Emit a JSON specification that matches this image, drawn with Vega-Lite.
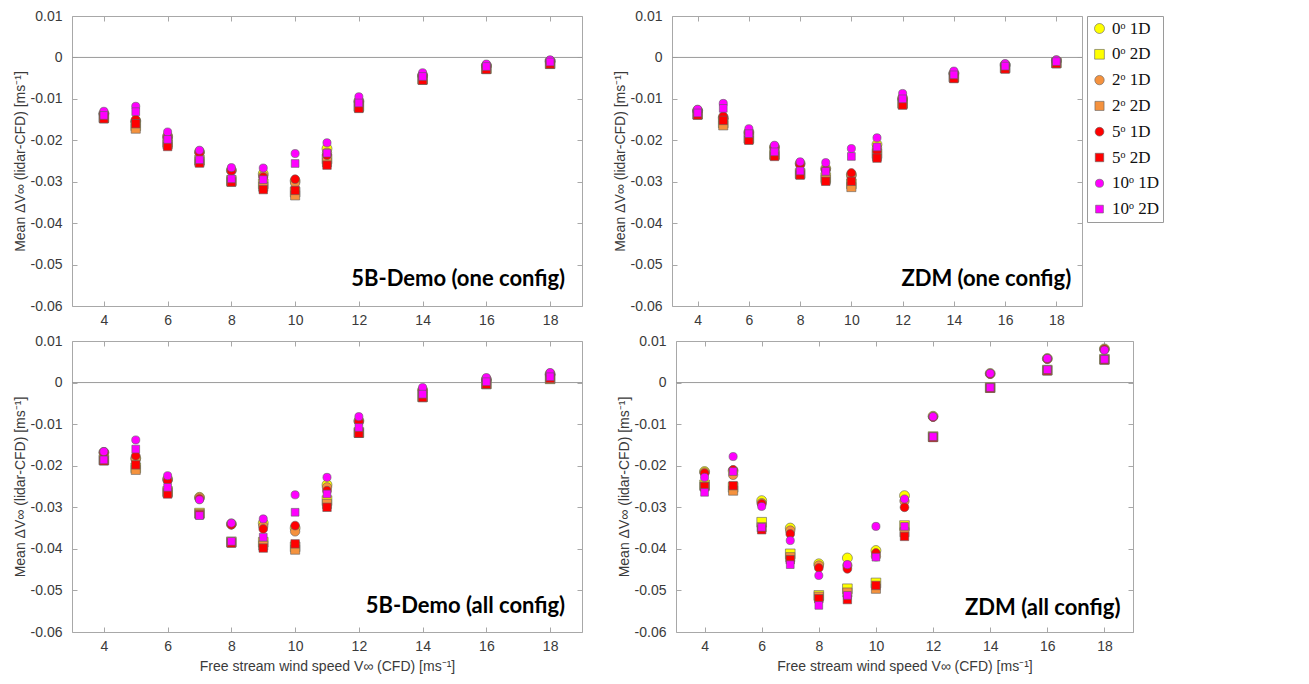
{
  "$schema": "https://vega.github.io/schema/vega-lite/v6.json",
  "background": "white",
  "padding": {"left": 12, "top": 8, "right": 5, "bottom": 5},
  "config": {
    "view": {"stroke": "#a8a8a8", "strokeWidth": 1},
    "axis": {
      "grid": false,
      "domain": false,
      "tickSize": -5,
      "tickColor": "#a8a8a8",
      "labelFont": "Liberation Sans",
      "labelFontSize": 14,
      "labelColor": "#3a3a3a",
      "titleFont": "Liberation Sans",
      "titleFontSize": 14,
      "titleFontWeight": "normal",
      "titleColor": "#3a3a3a"
    },
    "axisY": {"labelPadding": 15, "titlePadding": 3},
    "axisX": {"labelPadding": 12, "titlePadding": 6},
    "legend": {
      "orient": "right",
      "offset": 4,
      "strokeColor": "#9a9a9a",
      "fillColor": "white",
      "padding": 4,
      "labelFont": "Liberation Serif",
      "labelFontSize": 17,
      "labelColor": "#111111",
      "rowPadding": 7.8,
      "symbolStrokeColor": "#606060",
      "symbolStrokeWidth": 0.6,
      "labelOffset": 4
    }
  },
  "data": {"values": [
    {"p":"A","x":4,"s":"0ᵒ 1D","v":-0.0135},{"p":"A","x":4,"s":"0ᵒ 2D","v":-0.0145},{"p":"A","x":4,"s":"2ᵒ 1D","v":-0.0136},{"p":"A","x":4,"s":"2ᵒ 2D","v":-0.0147},{"p":"A","x":4,"s":"5ᵒ 1D","v":-0.0136},{"p":"A","x":4,"s":"5ᵒ 2D","v":-0.0148},{"p":"A","x":4,"s":"10ᵒ 1D","v":-0.0130},{"p":"A","x":4,"s":"10ᵒ 2D","v":-0.0140},
    {"p":"A","x":5,"s":"0ᵒ 1D","v":-0.0153},{"p":"A","x":5,"s":"0ᵒ 2D","v":-0.0165},{"p":"A","x":5,"s":"2ᵒ 1D","v":-0.0155},{"p":"A","x":5,"s":"2ᵒ 2D","v":-0.0172},{"p":"A","x":5,"s":"5ᵒ 1D","v":-0.0150},{"p":"A","x":5,"s":"5ᵒ 2D","v":-0.0160},{"p":"A","x":5,"s":"10ᵒ 1D","v":-0.0118},{"p":"A","x":5,"s":"10ᵒ 2D","v":-0.0131},
    {"p":"A","x":6,"s":"0ᵒ 1D","v":-0.0190},{"p":"A","x":6,"s":"0ᵒ 2D","v":-0.0205},{"p":"A","x":6,"s":"2ᵒ 1D","v":-0.0191},{"p":"A","x":6,"s":"2ᵒ 2D","v":-0.0210},{"p":"A","x":6,"s":"5ᵒ 1D","v":-0.0192},{"p":"A","x":6,"s":"5ᵒ 2D","v":-0.0215},{"p":"A","x":6,"s":"10ᵒ 1D","v":-0.0180},{"p":"A","x":6,"s":"10ᵒ 2D","v":-0.0198},
    {"p":"A","x":7,"s":"0ᵒ 1D","v":-0.0228},{"p":"A","x":7,"s":"0ᵒ 2D","v":-0.0248},{"p":"A","x":7,"s":"2ᵒ 1D","v":-0.0229},{"p":"A","x":7,"s":"2ᵒ 2D","v":-0.0252},{"p":"A","x":7,"s":"5ᵒ 1D","v":-0.0230},{"p":"A","x":7,"s":"5ᵒ 2D","v":-0.0255},{"p":"A","x":7,"s":"10ᵒ 1D","v":-0.0224},{"p":"A","x":7,"s":"10ᵒ 2D","v":-0.0247},
    {"p":"A","x":8,"s":"0ᵒ 1D","v":-0.0272},{"p":"A","x":8,"s":"0ᵒ 2D","v":-0.0297},{"p":"A","x":8,"s":"2ᵒ 1D","v":-0.0273},{"p":"A","x":8,"s":"2ᵒ 2D","v":-0.0300},{"p":"A","x":8,"s":"5ᵒ 1D","v":-0.0274},{"p":"A","x":8,"s":"5ᵒ 2D","v":-0.0301},{"p":"A","x":8,"s":"10ᵒ 1D","v":-0.0266},{"p":"A","x":8,"s":"10ᵒ 2D","v":-0.0293},
    {"p":"A","x":9,"s":"0ᵒ 1D","v":-0.0281},{"p":"A","x":9,"s":"0ᵒ 2D","v":-0.0305},{"p":"A","x":9,"s":"2ᵒ 1D","v":-0.0286},{"p":"A","x":9,"s":"2ᵒ 2D","v":-0.0312},{"p":"A","x":9,"s":"5ᵒ 1D","v":-0.0289},{"p":"A","x":9,"s":"5ᵒ 2D","v":-0.0319},{"p":"A","x":9,"s":"10ᵒ 1D","v":-0.0267},{"p":"A","x":9,"s":"10ᵒ 2D","v":-0.0295},
    {"p":"A","x":10,"s":"0ᵒ 1D","v":-0.0298},{"p":"A","x":10,"s":"0ᵒ 2D","v":-0.0325},{"p":"A","x":10,"s":"2ᵒ 1D","v":-0.0303},{"p":"A","x":10,"s":"2ᵒ 2D","v":-0.0333},{"p":"A","x":10,"s":"5ᵒ 1D","v":-0.0294},{"p":"A","x":10,"s":"5ᵒ 2D","v":-0.0321},{"p":"A","x":10,"s":"10ᵒ 1D","v":-0.0232},{"p":"A","x":10,"s":"10ᵒ 2D","v":-0.0256},
    {"p":"A","x":11,"s":"0ᵒ 1D","v":-0.0220},{"p":"A","x":11,"s":"0ᵒ 2D","v":-0.0245},{"p":"A","x":11,"s":"2ᵒ 1D","v":-0.0230},{"p":"A","x":11,"s":"2ᵒ 2D","v":-0.0253},{"p":"A","x":11,"s":"5ᵒ 1D","v":-0.0236},{"p":"A","x":11,"s":"5ᵒ 2D","v":-0.0260},{"p":"A","x":11,"s":"10ᵒ 1D","v":-0.0206},{"p":"A","x":11,"s":"10ᵒ 2D","v":-0.0231},
    {"p":"A","x":12,"s":"0ᵒ 1D","v":-0.0105},{"p":"A","x":12,"s":"0ᵒ 2D","v":-0.0118},{"p":"A","x":12,"s":"2ᵒ 1D","v":-0.0106},{"p":"A","x":12,"s":"2ᵒ 2D","v":-0.0121},{"p":"A","x":12,"s":"5ᵒ 1D","v":-0.0107},{"p":"A","x":12,"s":"5ᵒ 2D","v":-0.0123},{"p":"A","x":12,"s":"10ᵒ 1D","v":-0.0095},{"p":"A","x":12,"s":"10ᵒ 2D","v":-0.0110},
    {"p":"A","x":14,"s":"0ᵒ 1D","v":-0.0043},{"p":"A","x":14,"s":"0ᵒ 2D","v":-0.0052},{"p":"A","x":14,"s":"2ᵒ 1D","v":-0.0044},{"p":"A","x":14,"s":"2ᵒ 2D","v":-0.0054},{"p":"A","x":14,"s":"5ᵒ 1D","v":-0.0045},{"p":"A","x":14,"s":"5ᵒ 2D","v":-0.0055},{"p":"A","x":14,"s":"10ᵒ 1D","v":-0.0037},{"p":"A","x":14,"s":"10ᵒ 2D","v":-0.0046},
    {"p":"A","x":16,"s":"0ᵒ 1D","v":-0.0020},{"p":"A","x":16,"s":"0ᵒ 2D","v":-0.0027},{"p":"A","x":16,"s":"2ᵒ 1D","v":-0.0021},{"p":"A","x":16,"s":"2ᵒ 2D","v":-0.0028},{"p":"A","x":16,"s":"5ᵒ 1D","v":-0.0022},{"p":"A","x":16,"s":"5ᵒ 2D","v":-0.0029},{"p":"A","x":16,"s":"10ᵒ 1D","v":-0.0016},{"p":"A","x":16,"s":"10ᵒ 2D","v":-0.0022},
    {"p":"A","x":18,"s":"0ᵒ 1D","v":-0.0009},{"p":"A","x":18,"s":"0ᵒ 2D","v":-0.0015},{"p":"A","x":18,"s":"2ᵒ 1D","v":-0.0010},{"p":"A","x":18,"s":"2ᵒ 2D","v":-0.0016},{"p":"A","x":18,"s":"5ᵒ 1D","v":-0.0010},{"p":"A","x":18,"s":"5ᵒ 2D","v":-0.0016},{"p":"A","x":18,"s":"10ᵒ 1D","v":-0.0006},{"p":"A","x":18,"s":"10ᵒ 2D","v":-0.0011},

    {"p":"B","x":4,"s":"0ᵒ 1D","v":-0.0128},{"p":"B","x":4,"s":"0ᵒ 2D","v":-0.0137},{"p":"B","x":4,"s":"2ᵒ 1D","v":-0.0129},{"p":"B","x":4,"s":"2ᵒ 2D","v":-0.0138},{"p":"B","x":4,"s":"5ᵒ 1D","v":-0.0129},{"p":"B","x":4,"s":"5ᵒ 2D","v":-0.0139},{"p":"B","x":4,"s":"10ᵒ 1D","v":-0.0125},{"p":"B","x":4,"s":"10ᵒ 2D","v":-0.0134},
    {"p":"B","x":5,"s":"0ᵒ 1D","v":-0.0145},{"p":"B","x":5,"s":"0ᵒ 2D","v":-0.0158},{"p":"B","x":5,"s":"2ᵒ 1D","v":-0.0147},{"p":"B","x":5,"s":"2ᵒ 2D","v":-0.0164},{"p":"B","x":5,"s":"5ᵒ 1D","v":-0.0142},{"p":"B","x":5,"s":"5ᵒ 2D","v":-0.0152},{"p":"B","x":5,"s":"10ᵒ 1D","v":-0.0111},{"p":"B","x":5,"s":"10ᵒ 2D","v":-0.0123},
    {"p":"B","x":6,"s":"0ᵒ 1D","v":-0.0180},{"p":"B","x":6,"s":"0ᵒ 2D","v":-0.0195},{"p":"B","x":6,"s":"2ᵒ 1D","v":-0.0181},{"p":"B","x":6,"s":"2ᵒ 2D","v":-0.0197},{"p":"B","x":6,"s":"5ᵒ 1D","v":-0.0182},{"p":"B","x":6,"s":"5ᵒ 2D","v":-0.0200},{"p":"B","x":6,"s":"10ᵒ 1D","v":-0.0172},{"p":"B","x":6,"s":"10ᵒ 2D","v":-0.0184},
    {"p":"B","x":7,"s":"0ᵒ 1D","v":-0.0216},{"p":"B","x":7,"s":"0ᵒ 2D","v":-0.0234},{"p":"B","x":7,"s":"2ᵒ 1D","v":-0.0217},{"p":"B","x":7,"s":"2ᵒ 2D","v":-0.0236},{"p":"B","x":7,"s":"5ᵒ 1D","v":-0.0218},{"p":"B","x":7,"s":"5ᵒ 2D","v":-0.0239},{"p":"B","x":7,"s":"10ᵒ 1D","v":-0.0212},{"p":"B","x":7,"s":"10ᵒ 2D","v":-0.0228},
    {"p":"B","x":8,"s":"0ᵒ 1D","v":-0.0256},{"p":"B","x":8,"s":"0ᵒ 2D","v":-0.0280},{"p":"B","x":8,"s":"2ᵒ 1D","v":-0.0257},{"p":"B","x":8,"s":"2ᵒ 2D","v":-0.0282},{"p":"B","x":8,"s":"5ᵒ 1D","v":-0.0259},{"p":"B","x":8,"s":"5ᵒ 2D","v":-0.0284},{"p":"B","x":8,"s":"10ᵒ 1D","v":-0.0252},{"p":"B","x":8,"s":"10ᵒ 2D","v":-0.0274},
    {"p":"B","x":9,"s":"0ᵒ 1D","v":-0.0268},{"p":"B","x":9,"s":"0ᵒ 2D","v":-0.0290},{"p":"B","x":9,"s":"2ᵒ 1D","v":-0.0270},{"p":"B","x":9,"s":"2ᵒ 2D","v":-0.0295},{"p":"B","x":9,"s":"5ᵒ 1D","v":-0.0272},{"p":"B","x":9,"s":"5ᵒ 2D","v":-0.0299},{"p":"B","x":9,"s":"10ᵒ 1D","v":-0.0254},{"p":"B","x":9,"s":"10ᵒ 2D","v":-0.0275},
    {"p":"B","x":10,"s":"0ᵒ 1D","v":-0.0283},{"p":"B","x":10,"s":"0ᵒ 2D","v":-0.0305},{"p":"B","x":10,"s":"2ᵒ 1D","v":-0.0285},{"p":"B","x":10,"s":"2ᵒ 2D","v":-0.0313},{"p":"B","x":10,"s":"5ᵒ 1D","v":-0.0279},{"p":"B","x":10,"s":"5ᵒ 2D","v":-0.0299},{"p":"B","x":10,"s":"10ᵒ 1D","v":-0.0220},{"p":"B","x":10,"s":"10ᵒ 2D","v":-0.0239},
    {"p":"B","x":11,"s":"0ᵒ 1D","v":-0.0210},{"p":"B","x":11,"s":"0ᵒ 2D","v":-0.0232},{"p":"B","x":11,"s":"2ᵒ 1D","v":-0.0218},{"p":"B","x":11,"s":"2ᵒ 2D","v":-0.0238},{"p":"B","x":11,"s":"5ᵒ 1D","v":-0.0226},{"p":"B","x":11,"s":"5ᵒ 2D","v":-0.0243},{"p":"B","x":11,"s":"10ᵒ 1D","v":-0.0194},{"p":"B","x":11,"s":"10ᵒ 2D","v":-0.0216},
    {"p":"B","x":12,"s":"0ᵒ 1D","v":-0.0098},{"p":"B","x":12,"s":"0ᵒ 2D","v":-0.0110},{"p":"B","x":12,"s":"2ᵒ 1D","v":-0.0100},{"p":"B","x":12,"s":"2ᵒ 2D","v":-0.0113},{"p":"B","x":12,"s":"5ᵒ 1D","v":-0.0102},{"p":"B","x":12,"s":"5ᵒ 2D","v":-0.0115},{"p":"B","x":12,"s":"10ᵒ 1D","v":-0.0087},{"p":"B","x":12,"s":"10ᵒ 2D","v":-0.0100},
    {"p":"B","x":14,"s":"0ᵒ 1D","v":-0.0038},{"p":"B","x":14,"s":"0ᵒ 2D","v":-0.0047},{"p":"B","x":14,"s":"2ᵒ 1D","v":-0.0039},{"p":"B","x":14,"s":"2ᵒ 2D","v":-0.0049},{"p":"B","x":14,"s":"5ᵒ 1D","v":-0.0040},{"p":"B","x":14,"s":"5ᵒ 2D","v":-0.0051},{"p":"B","x":14,"s":"10ᵒ 1D","v":-0.0033},{"p":"B","x":14,"s":"10ᵒ 2D","v":-0.0042},
    {"p":"B","x":16,"s":"0ᵒ 1D","v":-0.0018},{"p":"B","x":16,"s":"0ᵒ 2D","v":-0.0025},{"p":"B","x":16,"s":"2ᵒ 1D","v":-0.0019},{"p":"B","x":16,"s":"2ᵒ 2D","v":-0.0026},{"p":"B","x":16,"s":"5ᵒ 1D","v":-0.0020},{"p":"B","x":16,"s":"5ᵒ 2D","v":-0.0028},{"p":"B","x":16,"s":"10ᵒ 1D","v":-0.0015},{"p":"B","x":16,"s":"10ᵒ 2D","v":-0.0021},
    {"p":"B","x":18,"s":"0ᵒ 1D","v":-0.0008},{"p":"B","x":18,"s":"0ᵒ 2D","v":-0.0013},{"p":"B","x":18,"s":"2ᵒ 1D","v":-0.0009},{"p":"B","x":18,"s":"2ᵒ 2D","v":-0.0014},{"p":"B","x":18,"s":"5ᵒ 1D","v":-0.0009},{"p":"B","x":18,"s":"5ᵒ 2D","v":-0.0015},{"p":"B","x":18,"s":"10ᵒ 1D","v":-0.0006},{"p":"B","x":18,"s":"10ᵒ 2D","v":-0.0010},

    {"p":"C","x":4,"s":"0ᵒ 1D","v":-0.0168},{"p":"C","x":4,"s":"0ᵒ 2D","v":-0.0186},{"p":"C","x":4,"s":"2ᵒ 1D","v":-0.0168},{"p":"C","x":4,"s":"2ᵒ 2D","v":-0.0187},{"p":"C","x":4,"s":"5ᵒ 1D","v":-0.0168},{"p":"C","x":4,"s":"5ᵒ 2D","v":-0.0188},{"p":"C","x":4,"s":"10ᵒ 1D","v":-0.0166},{"p":"C","x":4,"s":"10ᵒ 2D","v":-0.0186},
    {"p":"C","x":5,"s":"0ᵒ 1D","v":-0.0182},{"p":"C","x":5,"s":"0ᵒ 2D","v":-0.0205},{"p":"C","x":5,"s":"2ᵒ 1D","v":-0.0184},{"p":"C","x":5,"s":"2ᵒ 2D","v":-0.0210},{"p":"C","x":5,"s":"5ᵒ 1D","v":-0.0176},{"p":"C","x":5,"s":"5ᵒ 2D","v":-0.0198},{"p":"C","x":5,"s":"10ᵒ 1D","v":-0.0138},{"p":"C","x":5,"s":"10ᵒ 2D","v":-0.0160},
    {"p":"C","x":6,"s":"0ᵒ 1D","v":-0.0232},{"p":"C","x":6,"s":"0ᵒ 2D","v":-0.0262},{"p":"C","x":6,"s":"2ᵒ 1D","v":-0.0234},{"p":"C","x":6,"s":"2ᵒ 2D","v":-0.0265},{"p":"C","x":6,"s":"5ᵒ 1D","v":-0.0236},{"p":"C","x":6,"s":"5ᵒ 2D","v":-0.0268},{"p":"C","x":6,"s":"10ᵒ 1D","v":-0.0224},{"p":"C","x":6,"s":"10ᵒ 2D","v":-0.0252},
    {"p":"C","x":7,"s":"0ᵒ 1D","v":-0.0276},{"p":"C","x":7,"s":"0ᵒ 2D","v":-0.0314},{"p":"C","x":7,"s":"2ᵒ 1D","v":-0.0277},{"p":"C","x":7,"s":"2ᵒ 2D","v":-0.0316},{"p":"C","x":7,"s":"5ᵒ 1D","v":-0.0280},{"p":"C","x":7,"s":"5ᵒ 2D","v":-0.0318},{"p":"C","x":7,"s":"10ᵒ 1D","v":-0.0282},{"p":"C","x":7,"s":"10ᵒ 2D","v":-0.0320},
    {"p":"C","x":8,"s":"0ᵒ 1D","v":-0.0340},{"p":"C","x":8,"s":"0ᵒ 2D","v":-0.0383},{"p":"C","x":8,"s":"2ᵒ 1D","v":-0.0341},{"p":"C","x":8,"s":"2ᵒ 2D","v":-0.0385},{"p":"C","x":8,"s":"5ᵒ 1D","v":-0.0342},{"p":"C","x":8,"s":"5ᵒ 2D","v":-0.0386},{"p":"C","x":8,"s":"10ᵒ 1D","v":-0.0338},{"p":"C","x":8,"s":"10ᵒ 2D","v":-0.0382},
    {"p":"C","x":9,"s":"0ᵒ 1D","v":-0.0338},{"p":"C","x":9,"s":"0ᵒ 2D","v":-0.0384},{"p":"C","x":9,"s":"2ᵒ 1D","v":-0.0345},{"p":"C","x":9,"s":"2ᵒ 2D","v":-0.0392},{"p":"C","x":9,"s":"5ᵒ 1D","v":-0.0352},{"p":"C","x":9,"s":"5ᵒ 2D","v":-0.0398},{"p":"C","x":9,"s":"10ᵒ 1D","v":-0.0328},{"p":"C","x":9,"s":"10ᵒ 2D","v":-0.0372},
    {"p":"C","x":10,"s":"0ᵒ 1D","v":-0.0350},{"p":"C","x":10,"s":"0ᵒ 2D","v":-0.0395},{"p":"C","x":10,"s":"2ᵒ 1D","v":-0.0358},{"p":"C","x":10,"s":"2ᵒ 2D","v":-0.0402},{"p":"C","x":10,"s":"5ᵒ 1D","v":-0.0344},{"p":"C","x":10,"s":"5ᵒ 2D","v":-0.0388},{"p":"C","x":10,"s":"10ᵒ 1D","v":-0.0270},{"p":"C","x":10,"s":"10ᵒ 2D","v":-0.0312},
    {"p":"C","x":11,"s":"0ᵒ 1D","v":-0.0246},{"p":"C","x":11,"s":"0ᵒ 2D","v":-0.0284},{"p":"C","x":11,"s":"2ᵒ 1D","v":-0.0252},{"p":"C","x":11,"s":"2ᵒ 2D","v":-0.0292},{"p":"C","x":11,"s":"5ᵒ 1D","v":-0.0260},{"p":"C","x":11,"s":"5ᵒ 2D","v":-0.0300},{"p":"C","x":11,"s":"10ᵒ 1D","v":-0.0228},{"p":"C","x":11,"s":"10ᵒ 2D","v":-0.0268},
    {"p":"C","x":12,"s":"0ᵒ 1D","v":-0.0092},{"p":"C","x":12,"s":"0ᵒ 2D","v":-0.0120},{"p":"C","x":12,"s":"2ᵒ 1D","v":-0.0093},{"p":"C","x":12,"s":"2ᵒ 2D","v":-0.0121},{"p":"C","x":12,"s":"5ᵒ 1D","v":-0.0094},{"p":"C","x":12,"s":"5ᵒ 2D","v":-0.0122},{"p":"C","x":12,"s":"10ᵒ 1D","v":-0.0082},{"p":"C","x":12,"s":"10ᵒ 2D","v":-0.0108},
    {"p":"C","x":14,"s":"0ᵒ 1D","v":-0.0018},{"p":"C","x":14,"s":"0ᵒ 2D","v":-0.0034},{"p":"C","x":14,"s":"2ᵒ 1D","v":-0.0019},{"p":"C","x":14,"s":"2ᵒ 2D","v":-0.0035},{"p":"C","x":14,"s":"5ᵒ 1D","v":-0.0020},{"p":"C","x":14,"s":"5ᵒ 2D","v":-0.0036},{"p":"C","x":14,"s":"10ᵒ 1D","v":-0.0012},{"p":"C","x":14,"s":"10ᵒ 2D","v":-0.0028},
    {"p":"C","x":16,"s":"0ᵒ 1D","v":0.0008},{"p":"C","x":16,"s":"0ᵒ 2D","v":-0.0003},{"p":"C","x":16,"s":"2ᵒ 1D","v":0.0007},{"p":"C","x":16,"s":"2ᵒ 2D","v":-0.0004},{"p":"C","x":16,"s":"5ᵒ 1D","v":0.0006},{"p":"C","x":16,"s":"5ᵒ 2D","v":-0.0004},{"p":"C","x":16,"s":"10ᵒ 1D","v":0.0012},{"p":"C","x":16,"s":"10ᵒ 2D","v":0.0002},
    {"p":"C","x":18,"s":"0ᵒ 1D","v":0.0021},{"p":"C","x":18,"s":"0ᵒ 2D","v":0.0009},{"p":"C","x":18,"s":"2ᵒ 1D","v":0.0020},{"p":"C","x":18,"s":"2ᵒ 2D","v":0.0009},{"p":"C","x":18,"s":"5ᵒ 1D","v":0.0019},{"p":"C","x":18,"s":"5ᵒ 2D","v":0.0010},{"p":"C","x":18,"s":"10ᵒ 1D","v":0.0024},{"p":"C","x":18,"s":"10ᵒ 2D","v":0.0014},

    {"p":"D","x":4,"s":"0ᵒ 1D","v":-0.0214},{"p":"D","x":4,"s":"0ᵒ 2D","v":-0.0246},{"p":"D","x":4,"s":"2ᵒ 1D","v":-0.0216},{"p":"D","x":4,"s":"2ᵒ 2D","v":-0.0250},{"p":"D","x":4,"s":"5ᵒ 1D","v":-0.0218},{"p":"D","x":4,"s":"5ᵒ 2D","v":-0.0250},{"p":"D","x":4,"s":"10ᵒ 1D","v":-0.0228},{"p":"D","x":4,"s":"10ᵒ 2D","v":-0.0264},
    {"p":"D","x":5,"s":"0ᵒ 1D","v":-0.0212},{"p":"D","x":5,"s":"0ᵒ 2D","v":-0.0252},{"p":"D","x":5,"s":"2ᵒ 1D","v":-0.0222},{"p":"D","x":5,"s":"2ᵒ 2D","v":-0.0260},{"p":"D","x":5,"s":"5ᵒ 1D","v":-0.0210},{"p":"D","x":5,"s":"5ᵒ 2D","v":-0.0248},{"p":"D","x":5,"s":"10ᵒ 1D","v":-0.0178},{"p":"D","x":5,"s":"10ᵒ 2D","v":-0.0214},
    {"p":"D","x":6,"s":"0ᵒ 1D","v":-0.0284},{"p":"D","x":6,"s":"0ᵒ 2D","v":-0.0336},{"p":"D","x":6,"s":"2ᵒ 1D","v":-0.0290},{"p":"D","x":6,"s":"2ᵒ 2D","v":-0.0348},{"p":"D","x":6,"s":"5ᵒ 1D","v":-0.0292},{"p":"D","x":6,"s":"5ᵒ 2D","v":-0.0354},{"p":"D","x":6,"s":"10ᵒ 1D","v":-0.0298},{"p":"D","x":6,"s":"10ᵒ 2D","v":-0.0348},
    {"p":"D","x":7,"s":"0ᵒ 1D","v":-0.0350},{"p":"D","x":7,"s":"0ᵒ 2D","v":-0.0412},{"p":"D","x":7,"s":"2ᵒ 1D","v":-0.0356},{"p":"D","x":7,"s":"2ᵒ 2D","v":-0.0420},{"p":"D","x":7,"s":"5ᵒ 1D","v":-0.0364},{"p":"D","x":7,"s":"5ᵒ 2D","v":-0.0426},{"p":"D","x":7,"s":"10ᵒ 1D","v":-0.0380},{"p":"D","x":7,"s":"10ᵒ 2D","v":-0.0438},
    {"p":"D","x":8,"s":"0ᵒ 1D","v":-0.0436},{"p":"D","x":8,"s":"0ᵒ 2D","v":-0.0512},{"p":"D","x":8,"s":"2ᵒ 1D","v":-0.0440},{"p":"D","x":8,"s":"2ᵒ 2D","v":-0.0515},{"p":"D","x":8,"s":"5ᵒ 1D","v":-0.0446},{"p":"D","x":8,"s":"5ᵒ 2D","v":-0.0520},{"p":"D","x":8,"s":"10ᵒ 1D","v":-0.0464},{"p":"D","x":8,"s":"10ᵒ 2D","v":-0.0536},
    {"p":"D","x":9,"s":"0ᵒ 1D","v":-0.0422},{"p":"D","x":9,"s":"0ᵒ 2D","v":-0.0496},{"p":"D","x":9,"s":"2ᵒ 1D","v":-0.0440},{"p":"D","x":9,"s":"2ᵒ 2D","v":-0.0505},{"p":"D","x":9,"s":"5ᵒ 1D","v":-0.0448},{"p":"D","x":9,"s":"5ᵒ 2D","v":-0.0522},{"p":"D","x":9,"s":"10ᵒ 1D","v":-0.0438},{"p":"D","x":9,"s":"10ᵒ 2D","v":-0.0512},
    {"p":"D","x":10,"s":"0ᵒ 1D","v":-0.0404},{"p":"D","x":10,"s":"0ᵒ 2D","v":-0.0482},{"p":"D","x":10,"s":"2ᵒ 1D","v":-0.0418},{"p":"D","x":10,"s":"2ᵒ 2D","v":-0.0496},{"p":"D","x":10,"s":"5ᵒ 1D","v":-0.0410},{"p":"D","x":10,"s":"5ᵒ 2D","v":-0.0488},{"p":"D","x":10,"s":"10ᵒ 1D","v":-0.0346},{"p":"D","x":10,"s":"10ᵒ 2D","v":-0.0420},
    {"p":"D","x":11,"s":"0ᵒ 1D","v":-0.0272},{"p":"D","x":11,"s":"0ᵒ 2D","v":-0.0344},{"p":"D","x":11,"s":"2ᵒ 1D","v":-0.0285},{"p":"D","x":11,"s":"2ᵒ 2D","v":-0.0360},{"p":"D","x":11,"s":"5ᵒ 1D","v":-0.0300},{"p":"D","x":11,"s":"5ᵒ 2D","v":-0.0370},{"p":"D","x":11,"s":"10ᵒ 1D","v":-0.0280},{"p":"D","x":11,"s":"10ᵒ 2D","v":-0.0346},
    {"p":"D","x":12,"s":"0ᵒ 1D","v":-0.0081},{"p":"D","x":12,"s":"0ᵒ 2D","v":-0.0130},{"p":"D","x":12,"s":"2ᵒ 1D","v":-0.0082},{"p":"D","x":12,"s":"2ᵒ 2D","v":-0.0131},{"p":"D","x":12,"s":"5ᵒ 1D","v":-0.0083},{"p":"D","x":12,"s":"5ᵒ 2D","v":-0.0132},{"p":"D","x":12,"s":"10ᵒ 1D","v":-0.0082},{"p":"D","x":12,"s":"10ᵒ 2D","v":-0.0130},
    {"p":"D","x":14,"s":"0ᵒ 1D","v":0.0022},{"p":"D","x":14,"s":"0ᵒ 2D","v":-0.0012},{"p":"D","x":14,"s":"2ᵒ 1D","v":0.0021},{"p":"D","x":14,"s":"2ᵒ 2D","v":-0.0013},{"p":"D","x":14,"s":"5ᵒ 1D","v":0.0021},{"p":"D","x":14,"s":"5ᵒ 2D","v":-0.0013},{"p":"D","x":14,"s":"10ᵒ 1D","v":0.0022},{"p":"D","x":14,"s":"10ᵒ 2D","v":-0.0012},
    {"p":"D","x":16,"s":"0ᵒ 1D","v":0.0058},{"p":"D","x":16,"s":"0ᵒ 2D","v":0.0030},{"p":"D","x":16,"s":"2ᵒ 1D","v":0.0057},{"p":"D","x":16,"s":"2ᵒ 2D","v":0.0029},{"p":"D","x":16,"s":"5ᵒ 1D","v":0.0057},{"p":"D","x":16,"s":"5ᵒ 2D","v":0.0029},{"p":"D","x":16,"s":"10ᵒ 1D","v":0.0058},{"p":"D","x":16,"s":"10ᵒ 2D","v":0.0031},
    {"p":"D","x":18,"s":"0ᵒ 1D","v":0.0081},{"p":"D","x":18,"s":"0ᵒ 2D","v":0.0056},{"p":"D","x":18,"s":"2ᵒ 1D","v":0.0080},{"p":"D","x":18,"s":"2ᵒ 2D","v":0.0055},{"p":"D","x":18,"s":"5ᵒ 1D","v":0.0080},{"p":"D","x":18,"s":"5ᵒ 2D","v":0.0055},{"p":"D","x":18,"s":"10ᵒ 1D","v":0.0078},{"p":"D","x":18,"s":"10ᵒ 2D","v":0.0056}
  ]},
  "resolve": {"legend": {"color": "independent", "shape": "independent", "size": "independent"}},
  "spacing": 5,
  "vconcat": [
    {
      "spacing": 29,
      "resolve": {"legend": {"color": "independent", "shape": "independent", "size": "independent"}},
      "hconcat": [
        {
          "width": 510, "height": 290,
          "resolve": {"axis": {"x": "independent", "y": "independent"}},
          "layer": [
            {"data": {"values": [{}]}, "mark": {"type": "rule", "color": "#9a9a9a", "strokeWidth": 1}, "encoding": {"y": {"datum": 0, "type": "quantitative", "axis": {"orient": "right", "labels": false, "title": null, "values": [-0.06,-0.05,-0.04,-0.03,-0.02,-0.01,0,0.01]}}}},
            {
              "transform": [{"filter": "datum.p == 'A'"}],
              "mark": {"type": "point", "filled": true, "opacity": 1, "stroke": "#606060", "strokeWidth": 0.6},
              "encoding": {
                "x": {"field": "x", "type": "quantitative", "scale": {"domain": [3, 19], "nice": false}, "axis": {"values": [4,6,8,10,12,14,16,18], "title": null}},
                "y": {"field": "v", "type": "quantitative", "scale": {"domain": [-0.06, 0.01], "nice": false, "zero": false}, "axis": {"values": [-0.06,-0.05,-0.04,-0.03,-0.02,-0.01,0,0.01], "format": ".2~f", "labelExpr": "replace(datum.label, '−', '-')", "title": "Mean ΔV∞ (lidar-CFD) [ms⁻¹]"}},
                "color": {"field": "s", "type": "nominal", "sort": null, "scale": {"domain": ["0ᵒ 1D","0ᵒ 2D","2ᵒ 1D","2ᵒ 2D","5ᵒ 1D","5ᵒ 2D","10ᵒ 1D","10ᵒ 2D"], "range": ["#ffff00","#ffff00","#f5923e","#f5923e","#ff0000","#ff0000","#ff00ff","#ff00ff"]}, "legend": null},
                "shape": {"field": "s", "type": "nominal", "scale": {"domain": ["0ᵒ 1D","0ᵒ 2D","2ᵒ 1D","2ᵒ 2D","5ᵒ 1D","5ᵒ 2D","10ᵒ 1D","10ᵒ 2D"], "range": ["circle","square","circle","square","circle","square","circle","square"]}, "legend": null},
                "size": {"field": "s", "type": "nominal", "scale": {"domain": ["0ᵒ 1D","0ᵒ 2D","2ᵒ 1D","2ᵒ 2D","5ᵒ 1D","5ᵒ 2D","10ᵒ 1D","10ᵒ 2D"], "range": [100,60,100,60,100,60,100,60]}, "legend": null}
              }
            },
            {"data": {"values": [{}]}, "mark": {"type": "text", "font": "Lato", "fontWeight": "bold", "fontSize": 22, "align": "right", "baseline": "middle", "color": "#000000"}, "encoding": {"x": {"datum": 18.47, "type": "quantitative", "axis": {"orient": "top", "labels": false, "title": null, "values": [4,6,8,10,12,14,16,18]}}, "y": {"datum": -0.0535, "type": "quantitative", "axis": null}, "text": {"value": "5B-Demo (one config)"}}}
          ]
        },
        {
          "width": 410, "height": 290,
          "resolve": {"axis": {"x": "independent", "y": "independent"}},
          "layer": [
            {"data": {"values": [{}]}, "mark": {"type": "rule", "color": "#9a9a9a", "strokeWidth": 1}, "encoding": {"y": {"datum": 0, "type": "quantitative", "axis": {"orient": "right", "labels": false, "title": null, "values": [-0.06,-0.05,-0.04,-0.03,-0.02,-0.01,0,0.01]}}}},
            {
              "transform": [{"filter": "datum.p == 'B'"}],
              "mark": {"type": "point", "filled": true, "opacity": 1, "stroke": "#606060", "strokeWidth": 0.6},
              "encoding": {
                "x": {"field": "x", "type": "quantitative", "scale": {"domain": [3, 19], "nice": false}, "axis": {"values": [4,6,8,10,12,14,16,18], "title": null}},
                "y": {"field": "v", "type": "quantitative", "scale": {"domain": [-0.06, 0.01], "nice": false, "zero": false}, "axis": {"values": [-0.06,-0.05,-0.04,-0.03,-0.02,-0.01,0,0.01], "format": ".2~f", "labelExpr": "replace(datum.label, '−', '-')", "title": "Mean ΔV∞ (lidar-CFD) [ms⁻¹]"}},
                "color": {"field": "s", "type": "nominal", "sort": null, "scale": {"domain": ["0ᵒ 1D","0ᵒ 2D","2ᵒ 1D","2ᵒ 2D","5ᵒ 1D","5ᵒ 2D","10ᵒ 1D","10ᵒ 2D"], "range": ["#ffff00","#ffff00","#f5923e","#f5923e","#ff0000","#ff0000","#ff00ff","#ff00ff"]}, "legend": {"title": null}},
                "shape": {"field": "s", "type": "nominal", "scale": {"domain": ["0ᵒ 1D","0ᵒ 2D","2ᵒ 1D","2ᵒ 2D","5ᵒ 1D","5ᵒ 2D","10ᵒ 1D","10ᵒ 2D"], "range": ["circle","square","circle","square","circle","square","circle","square"]}, "legend": {"title": null}},
                "size": {"field": "s", "type": "nominal", "scale": {"domain": ["0ᵒ 1D","0ᵒ 2D","2ᵒ 1D","2ᵒ 2D","5ᵒ 1D","5ᵒ 2D","10ᵒ 1D","10ᵒ 2D"], "range": [100,60,100,60,100,60,100,60]}, "legend": {"title": null}}
              }
            },
            {"data": {"values": [{}]}, "mark": {"type": "text", "font": "Lato", "fontWeight": "bold", "fontSize": 22, "align": "right", "baseline": "middle", "color": "#000000"}, "encoding": {"x": {"datum": 18.58, "type": "quantitative", "axis": {"orient": "top", "labels": false, "title": null, "values": [4,6,8,10,12,14,16,18]}}, "y": {"datum": -0.0535, "type": "quantitative", "axis": null}, "text": {"value": "ZDM (one config)"}}}
          ]
        }
      ]
    },
    {
      "spacing": 33,
      "resolve": {"legend": {"color": "independent", "shape": "independent", "size": "independent"}},
      "hconcat": [
        {
          "width": 510, "height": 291,
          "resolve": {"axis": {"x": "independent", "y": "independent"}},
          "layer": [
            {"data": {"values": [{}]}, "mark": {"type": "rule", "color": "#9a9a9a", "strokeWidth": 1}, "encoding": {"y": {"datum": 0, "type": "quantitative", "axis": {"orient": "right", "labels": false, "title": null, "values": [-0.06,-0.05,-0.04,-0.03,-0.02,-0.01,0,0.01]}}}},
            {
              "transform": [{"filter": "datum.p == 'C'"}],
              "mark": {"type": "point", "filled": true, "opacity": 1, "stroke": "#606060", "strokeWidth": 0.6},
              "encoding": {
                "x": {"field": "x", "type": "quantitative", "scale": {"domain": [3, 19], "nice": false}, "axis": {"values": [4,6,8,10,12,14,16,18], "title": "Free stream wind speed V∞ (CFD) [ms⁻¹]"}},
                "y": {"field": "v", "type": "quantitative", "scale": {"domain": [-0.06, 0.01], "nice": false, "zero": false}, "axis": {"values": [-0.06,-0.05,-0.04,-0.03,-0.02,-0.01,0,0.01], "format": ".2~f", "labelExpr": "replace(datum.label, '−', '-')", "title": "Mean ΔV∞ (lidar-CFD) [ms⁻¹]"}},
                "color": {"field": "s", "type": "nominal", "sort": null, "scale": {"domain": ["0ᵒ 1D","0ᵒ 2D","2ᵒ 1D","2ᵒ 2D","5ᵒ 1D","5ᵒ 2D","10ᵒ 1D","10ᵒ 2D"], "range": ["#ffff00","#ffff00","#f5923e","#f5923e","#ff0000","#ff0000","#ff00ff","#ff00ff"]}, "legend": null},
                "shape": {"field": "s", "type": "nominal", "scale": {"domain": ["0ᵒ 1D","0ᵒ 2D","2ᵒ 1D","2ᵒ 2D","5ᵒ 1D","5ᵒ 2D","10ᵒ 1D","10ᵒ 2D"], "range": ["circle","square","circle","square","circle","square","circle","square"]}, "legend": null},
                "size": {"field": "s", "type": "nominal", "scale": {"domain": ["0ᵒ 1D","0ᵒ 2D","2ᵒ 1D","2ᵒ 2D","5ᵒ 1D","5ᵒ 2D","10ᵒ 1D","10ᵒ 2D"], "range": [100,60,100,60,100,60,100,60]}, "legend": null}
              }
            },
            {"data": {"values": [{}]}, "mark": {"type": "text", "font": "Lato", "fontWeight": "bold", "fontSize": 22, "align": "right", "baseline": "middle", "color": "#000000"}, "encoding": {"x": {"datum": 18.47, "type": "quantitative", "axis": {"orient": "top", "labels": false, "title": null, "values": [4,6,8,10,12,14,16,18]}}, "y": {"datum": -0.0537, "type": "quantitative", "axis": null}, "text": {"value": "5B-Demo (all config)"}}}
          ]
        },
        {
          "width": 457, "height": 291,
          "resolve": {"axis": {"x": "independent", "y": "independent"}},
          "layer": [
            {"data": {"values": [{}]}, "mark": {"type": "rule", "color": "#9a9a9a", "strokeWidth": 1}, "encoding": {"y": {"datum": 0, "type": "quantitative", "axis": {"orient": "right", "labels": false, "title": null, "values": [-0.06,-0.05,-0.04,-0.03,-0.02,-0.01,0,0.01]}}}},
            {
              "transform": [{"filter": "datum.p == 'D'"}],
              "mark": {"type": "point", "filled": true, "opacity": 1, "stroke": "#606060", "strokeWidth": 0.6},
              "encoding": {
                "x": {"field": "x", "type": "quantitative", "scale": {"domain": [3, 19], "nice": false}, "axis": {"values": [4,6,8,10,12,14,16,18], "title": "Free stream wind speed V∞ (CFD) [ms⁻¹]"}},
                "y": {"field": "v", "type": "quantitative", "scale": {"domain": [-0.06, 0.01], "nice": false, "zero": false}, "axis": {"values": [-0.06,-0.05,-0.04,-0.03,-0.02,-0.01,0,0.01], "format": ".2~f", "labelExpr": "replace(datum.label, '−', '-')", "title": "Mean ΔV∞ (lidar-CFD) [ms⁻¹]"}},
                "color": {"field": "s", "type": "nominal", "sort": null, "scale": {"domain": ["0ᵒ 1D","0ᵒ 2D","2ᵒ 1D","2ᵒ 2D","5ᵒ 1D","5ᵒ 2D","10ᵒ 1D","10ᵒ 2D"], "range": ["#ffff00","#ffff00","#f5923e","#f5923e","#ff0000","#ff0000","#ff00ff","#ff00ff"]}, "legend": null},
                "shape": {"field": "s", "type": "nominal", "scale": {"domain": ["0ᵒ 1D","0ᵒ 2D","2ᵒ 1D","2ᵒ 2D","5ᵒ 1D","5ᵒ 2D","10ᵒ 1D","10ᵒ 2D"], "range": ["circle","square","circle","square","circle","square","circle","square"]}, "legend": null},
                "size": {"field": "s", "type": "nominal", "scale": {"domain": ["0ᵒ 1D","0ᵒ 2D","2ᵒ 1D","2ᵒ 2D","5ᵒ 1D","5ᵒ 2D","10ᵒ 1D","10ᵒ 2D"], "range": [100,60,100,60,100,60,100,60]}, "legend": null}
              }
            },
            {"data": {"values": [{}]}, "mark": {"type": "text", "font": "Lato", "fontWeight": "bold", "fontSize": 22, "align": "right", "baseline": "middle", "color": "#000000"}, "encoding": {"x": {"datum": 18.56, "type": "quantitative", "axis": {"orient": "top", "labels": false, "title": null, "values": [4,6,8,10,12,14,16,18]}}, "y": {"datum": -0.0542, "type": "quantitative", "axis": null}, "text": {"value": "ZDM (all config)"}}}
          ]
        }
      ]
    }
  ]
}
